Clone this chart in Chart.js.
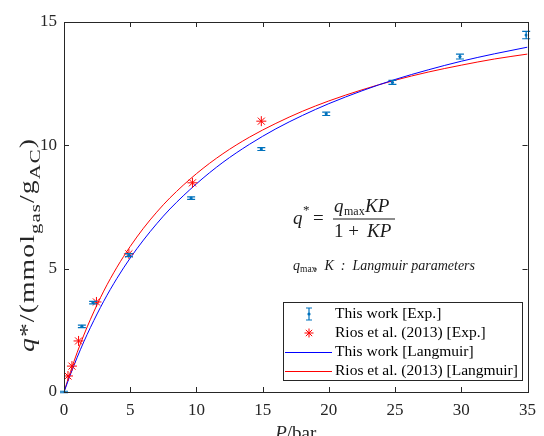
<!DOCTYPE html>
<html>
<head>
<meta charset="utf-8">
<script src="https://cdn.jsdelivr.net/npm/chart.js@4.4.0/dist/chart.umd.min.js"></script>
<style>
  html, body { margin: 0; padding: 0; background: #fff; }
  #wrap { width: 544px; height: 436px; }
</style>
</head>
<body>
<div id="wrap"><canvas id="chart" width="544" height="436"></canvas></div>
<script>
// Experimental points, this work (P in bar, q in mmol/g)
const expP = [0, 1.35, 2.2, 4.9, 9.6, 14.9, 19.8, 24.8, 29.9, 34.9];
const expQ = [0, 2.66, 3.62, 5.55, 7.86, 9.85, 11.28, 12.55, 13.6, 14.47];
const expErr = [0.03, 0.05, 0.05, 0.06, 0.05, 0.06, 0.07, 0.08, 0.1, 0.15];

// Rios et al. (2013) points
const riosP = [0.3, 0.6, 1.1, 2.45, 4.9, 9.7, 14.9];
const riosQ = [0.65, 1.05, 2.07, 3.65, 5.6, 8.48, 10.98];

// Langmuir curves
const curveP = [0, 0.5, 1, 1.5, 2, 3, 4, 5, 6, 7, 8, 10, 12, 14, 16, 18, 20, 22.5, 25, 27.5, 30, 32.5, 35];
const thisWorkFit = [0, 0.73, 1.41, 2.04, 2.62, 3.68, 4.61, 5.43, 6.16, 6.82, 7.42, 8.44, 9.31, 10.04, 10.67, 11.21, 11.69, 12.21, 12.67, 13.06, 13.41, 13.71, 13.98];
const riosFit = [0, 0.84, 1.61, 2.31, 2.95, 4.09, 5.06, 5.9, 6.64, 7.29, 7.87, 8.85, 9.66, 10.33, 10.89, 11.38, 11.8, 12.25, 12.64, 12.97, 13.25, 13.5, 13.7];

const xTicks = [0, 5, 10, 15, 20, 25, 30, 35];
const yTicks = [0, 5, 10, 15];

const legendLabels = ['This work [Exp.]', 'Rios et al. (2013) [Exp.]', 'This work [Langmuir]', 'Rios et al. (2013) [Langmuir]'];

const SERIF = '"Liberation Serif", "Times New Roman", serif';
const AXIS_COLOR = '#262626';
const EXP_COLOR = '#0072BD';

function pts(xs, ys) {
    return xs.map((x, i) => ({ x: x, y: ys[i] }));
}

// error bars, box with inward ticks, titles, equation and legend
const decorations = {
    id: 'decorations',
    afterDatasetsDraw(chart) {
        const ctx = chart.ctx;
        const xs = chart.scales.x;
        const ys = chart.scales.y;

        // error bars for this work
        ctx.save();
        ctx.strokeStyle = EXP_COLOR;
        ctx.lineWidth = 1.2;
        expP.forEach((p, i) => {
            const x = xs.getPixelForValue(p);
            const y1 = ys.getPixelForValue(expQ[i] - expErr[i]);
            const y2 = ys.getPixelForValue(expQ[i] + expErr[i]);
            ctx.beginPath();
            ctx.moveTo(x, y1); ctx.lineTo(x, y2);
            ctx.moveTo(x - 4, y1); ctx.lineTo(x + 4, y1);
            ctx.moveTo(x - 4, y2); ctx.lineTo(x + 4, y2);
            ctx.stroke();
        });
        ctx.restore();
    },
    afterDraw(chart) {
        const ctx = chart.ctx;
        const a = chart.chartArea;
        const xs = chart.scales.x;
        const ys = chart.scales.y;

        ctx.save();
        // axes box
        ctx.strokeStyle = AXIS_COLOR;
        ctx.lineWidth = 1;
        ctx.strokeRect(Math.round(a.left) + 0.5, Math.round(a.top) + 0.5,
            Math.round(a.right - a.left), Math.round(a.bottom - a.top));

        // inward ticks on all four sides
        ctx.beginPath();
        xTicks.forEach(v => {
            const x = Math.round(xs.getPixelForValue(v)) + 0.5;
            ctx.moveTo(x, a.bottom); ctx.lineTo(x, a.bottom - 5);
            ctx.moveTo(x, a.top); ctx.lineTo(x, a.top + 5);
        });
        yTicks.forEach(v => {
            const y = Math.round(ys.getPixelForValue(v)) + 0.5;
            ctx.moveTo(a.left, y); ctx.lineTo(a.left + 5, y);
            ctx.moveTo(a.right, y); ctx.lineTo(a.right - 5, y);
        });
        ctx.stroke();

        ctx.fillStyle = AXIS_COLOR;
        ctx.textBaseline = 'alphabetic';

        // x title: P/bar
        ctx.textAlign = 'left';
        ctx.font = 'italic 19px ' + SERIF;
        const wP = ctx.measureText('P').width;
        ctx.font = '19px ' + SERIF;
        const wBar = ctx.measureText('/bar').width;
        let xt = (a.left + a.right) / 2 - (wP + wBar) / 2;
        ctx.font = 'italic 19px ' + SERIF;
        ctx.fillText('P', xt, 439);
        ctx.font = '19px ' + SERIF;
        ctx.fillText('/bar', xt + wP, 439);

        // y title: q*/(mmol_gas/g_AC), spread along its length like the original
        ctx.save();
        ctx.translate(34, 245);
        ctx.rotate(-Math.PI / 2);
        ctx.letterSpacing = '0.8px';
        const parts = [
            { t: 'q', f: 'italic 20px ', dy: 0 },
            { t: '*/(mmol', f: '20px ', dy: 0 },
            { t: 'gas', f: '15px ', dy: 6 },
            { t: '/g', f: '20px ', dy: 0 },
            { t: 'AC', f: '15px ', dy: 6 },
            { t: ')', f: '20px ', dy: 0 }
        ];
        let total = 0;
        parts.forEach(p => { ctx.font = p.f + SERIF; p.w = ctx.measureText(p.t).width; total += p.w; });
        const stretch = 214 / total;
        ctx.scale(stretch, 1);
        let px = -total / 2;
        parts.forEach(p => {
            ctx.font = p.f + SERIF;
            ctx.fillText(p.t, px, p.dy);
            px += p.w;
        });
        ctx.restore();

        // Langmuir equation
        ctx.fillStyle = '#1a1a1a';
        ctx.font = 'italic 19px ' + SERIF;
        ctx.fillText('q', 293, 224);
        ctx.font = '13px ' + SERIF;
        ctx.fillText('*', 303, 214);
        ctx.font = '19px ' + SERIF;
        ctx.fillText('=', 313, 224);
        // numerator
        ctx.font = 'italic 19px ' + SERIF;
        ctx.fillText('q', 334, 212);
        ctx.font = '12px ' + SERIF;
        ctx.fillText('max', 344, 215);
        ctx.font = 'italic 19px ' + SERIF;
        ctx.fillText('KP', 365, 212);
        // fraction bar
        ctx.fillRect(333, 218.5, 62, 1);
        // denominator
        ctx.font = '19px ' + SERIF;
        ctx.fillText('1 + ', 334, 237);
        ctx.font = 'italic 19px ' + SERIF;
        ctx.fillText('KP', 367, 237);

        // parameter note
        ctx.font = 'italic 14px ' + SERIF;
        ctx.fillText('q', 293, 270);
        ctx.font = '9.5px ' + SERIF;
        ctx.fillText('max', 300, 272);
        ctx.font = 'italic 14px ' + SERIF;
        ctx.fillText(',  K  :  Langmuir parameters', 314, 270);

        // legend box
        const lx = 283.5, ly = 302.5, lw = 239, lh = 78;
        ctx.fillStyle = '#fff';
        ctx.fillRect(lx, ly, lw, lh);
        ctx.strokeStyle = '#262626';
        ctx.lineWidth = 1;
        ctx.strokeRect(lx, ly, lw, lh);
        const rows = [314, 333, 352, 371];
        ctx.font = '15.5px ' + SERIF;
        ctx.fillStyle = '#000';
        ctx.textBaseline = 'middle';
        legendLabels.forEach((lab, i) => ctx.fillText(lab, 335, rows[i]));

        // legend symbols
        const mx = 309;
        ctx.strokeStyle = EXP_COLOR;
        ctx.lineWidth = 1.2;
        ctx.beginPath();
        ctx.moveTo(mx, rows[0] - 6); ctx.lineTo(mx, rows[0] + 6);
        ctx.moveTo(mx - 3, rows[0] - 6); ctx.lineTo(mx + 3, rows[0] - 6);
        ctx.moveTo(mx - 3, rows[0] + 6); ctx.lineTo(mx + 3, rows[0] + 6);
        ctx.stroke();
        ctx.fillStyle = EXP_COLOR;
        ctx.beginPath(); ctx.arc(mx, rows[0], 1.6, 0, Math.PI * 2); ctx.fill();

        ctx.strokeStyle = '#ff0000';
        ctx.lineWidth = 1;
        ctx.beginPath();
        const r = 4.5, c = r * 0.707;
        ctx.moveTo(mx - r, rows[1]); ctx.lineTo(mx + r, rows[1]);
        ctx.moveTo(mx, rows[1] - r); ctx.lineTo(mx, rows[1] + r);
        ctx.moveTo(mx - c, rows[1] - c); ctx.lineTo(mx + c, rows[1] + c);
        ctx.moveTo(mx - c, rows[1] + c); ctx.lineTo(mx + c, rows[1] - c);
        ctx.stroke();

        ctx.strokeStyle = '#0000ff';
        ctx.beginPath(); ctx.moveTo(285, rows[2] + 0.5); ctx.lineTo(332, rows[2] + 0.5); ctx.stroke();
        ctx.strokeStyle = '#ff0000';
        ctx.beginPath(); ctx.moveTo(285, rows[3] + 0.5); ctx.lineTo(332, rows[3] + 0.5); ctx.stroke();

        ctx.restore();
    }
};

new Chart(document.getElementById('chart'), {
    type: 'scatter',
    data: {
        datasets: [
            {
                label: legendLabels[0],
                data: pts(expP, expQ),
                pointStyle: 'circle',
                pointRadius: 1.6,
                backgroundColor: EXP_COLOR,
                borderColor: EXP_COLOR,
                borderWidth: 0,
                showLine: false,
                order: 0
            },
            {
                label: legendLabels[1],
                data: pts(riosP, riosQ),
                pointStyle: 'star',
                pointRadius: 5,
                borderColor: '#ff0000',
                backgroundColor: '#ff0000',
                borderWidth: 1,
                showLine: false,
                order: 0
            },
            {
                label: legendLabels[2],
                data: pts(curveP, thisWorkFit),
                showLine: true,
                borderColor: '#0000ff',
                borderWidth: 1,
                pointRadius: 0,
                cubicInterpolationMode: 'monotone',
                fill: false,
                order: 1
            },
            {
                label: legendLabels[3],
                data: pts(curveP, riosFit),
                showLine: true,
                borderColor: '#ff0000',
                borderWidth: 1,
                pointRadius: 0,
                cubicInterpolationMode: 'monotone',
                fill: false,
                order: 1
            }
        ]
    },
    options: {
        responsive: false,
        animation: false,
        layout: { padding: { top: 22, right: 9, left: 0, bottom: 0 } },
        plugins: {
            legend: { display: false },
            tooltip: { enabled: false }
        },
        scales: {
            x: {
                type: 'linear',
                min: 0,
                max: 35,
                grid: { display: false, drawTicks: false },
                border: { display: false },
                afterBuildTicks: s => { s.ticks = xTicks.map(v => ({ value: v })); },
                afterFit: s => { s.height = 44; },
                ticks: {
                    color: AXIS_COLOR,
                    font: { family: SERIF, size: 17 },
                    padding: 8,
                    maxRotation: 0
                }
            },
            y: {
                type: 'linear',
                min: 0,
                max: 15,
                grid: { display: false, drawTicks: false },
                border: { display: false },
                afterBuildTicks: s => { s.ticks = yTicks.map(v => ({ value: v })); },
                afterFit: s => { s.width = 64; },
                ticks: {
                    color: AXIS_COLOR,
                    font: { family: SERIF, size: 17 },
                    padding: 7
                }
            }
        }
    },
    plugins: [decorations]
});
</script>
</body>
</html>
